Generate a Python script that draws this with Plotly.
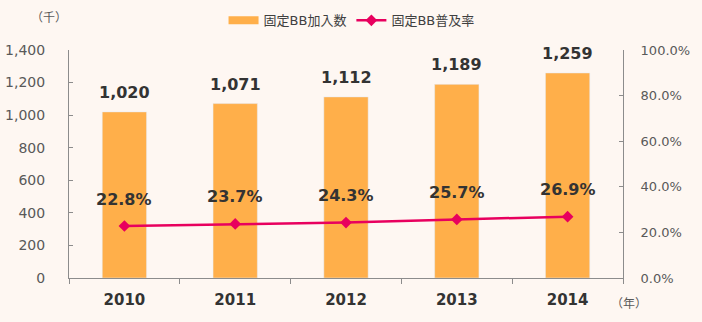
import plotly.graph_objects as go

years = ["2010", "2011", "2012", "2013", "2014"]
subscribers = [1020, 1071, 1112, 1189, 1259]
rates = [0.228, 0.237, 0.243, 0.257, 0.269]
rate_labels = ["22.8%", "23.7%", "24.3%", "25.7%", "26.9%"]
sub_labels = ["1,020", "1,071", "1,112", "1,189", "1,259"]

BG = "#FEF7F2"
FONT = "DejaVu Sans, Noto Sans CJK JP"
BAR = "#FFAF4A"
LINE = "#E8005E"

fig = go.Figure()
fig.add_trace(go.Bar(x=years, y=subscribers, name="固定BB加入数", marker_color=BAR,
                     width=0.4, yaxis="y", showlegend=False))
# legend-only entry with a wide swatch, like the reference
fig.add_trace(go.Scatter(x=[None], y=[None], name="固定BB加入数", mode="lines",
                         line=dict(color=BAR, width=8), yaxis="y"))
fig.add_trace(go.Scatter(x=years, y=rates, name="固定BB普及率", mode="lines+markers",
                         line=dict(color=LINE, width=2.5),
                         marker=dict(symbol="diamond", size=9, color=LINE),
                         yaxis="y2"))

ann = []
for i, (v, t) in enumerate(zip(subscribers, sub_labels)):
    ann.append(dict(x=i, y=v, xref="x", yref="y", text=t, showarrow=False,
                    yanchor="bottom", yshift=8,
                    font=dict(family=FONT, size=16, color="#333333", weight="bold")))
for i, (v, t) in enumerate(zip(rates, rate_labels)):
    ann.append(dict(x=i, y=v, xref="x", yref="y2", text=t, showarrow=False,
                    yanchor="middle", yshift=27,
                    font=dict(family=FONT, size=16, color="#333333", weight="bold")))
ann.append(dict(xref="x domain", yref="y domain", x=0.0, y=1.14, text="（千）",
                showarrow=False, xanchor="right", yanchor="middle",
                font=dict(family=FONT, size=12, color="#595959")))
ann.append(dict(xref="x domain", yref="y domain", x=0.975, y=-0.115, text="（年）",
                showarrow=False, xanchor="left", yanchor="middle",
                font=dict(family=FONT, size=12, color="#595959")))

fig.update_layout(
    width=702, height=322,
    margin=dict(l=69, r=79, t=50, b=44, autoexpand=False),
    paper_bgcolor=BG, plot_bgcolor=BG,
    font=dict(family=FONT, size=13, color="#595959"),
    showlegend=True,
    legend=dict(orientation="h", x=0.51, xanchor="center", y=1.13, yanchor="middle",
                font=dict(family=FONT, size=13, color="#404040"), bgcolor="rgba(0,0,0,0)",
                itemwidth=30),
    xaxis=dict(type="category", range=[-0.5, 4.5], autorange=False, showline=True,
               linecolor="#8C8C8C", linewidth=1,
               ticks="outside", ticklen=5, tickcolor="#8C8C8C", tickson="boundaries",
               ticklabelstandoff=8,
               tickfont=dict(family=FONT, size=15, color="#333333", weight="bold"),
               showgrid=False),
    yaxis=dict(range=[0, 1400], dtick=200, tickformat=",d", showline=True,
               linecolor="#8C8C8C", ticks="inside", ticklen=4, tickcolor="#8C8C8C",
               showgrid=False, zeroline=False, ticklabelstandoff=20,
               tickfont=dict(family=FONT, size=14, color="#595959")),
    yaxis2=dict(range=[0, 1], dtick=0.2, tickformat=".1%", overlaying="y", side="right",
                showline=True, linecolor="#8C8C8C", ticks="inside", ticklen=4,
                tickcolor="#8C8C8C", showgrid=False, zeroline=False, ticklabelstandoff=14,
                tickfont=dict(family=FONT, size=13, color="#595959")),
    annotations=ann,
    bargap=0.6,
)

fig.write_html("out.html")
